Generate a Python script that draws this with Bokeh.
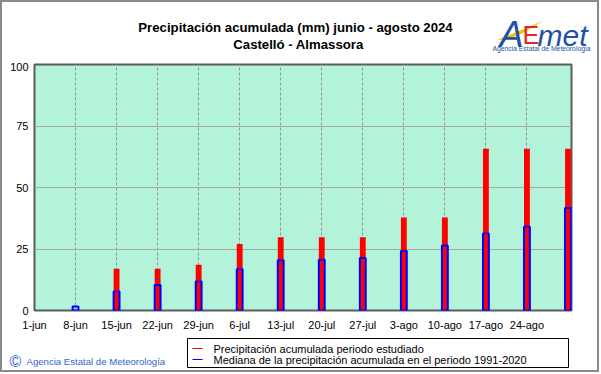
import numpy as np
from bokeh.plotting import figure
from bokeh.layouts import column
from bokeh.models import (Label, FixedTicker, Range1d, ColumnDataSource)
from bokeh.embed import file_html
from bokeh.resources import INLINE

# ---------------- data ----------------
tick_labels = ["1-jun", "8-jun", "15-jun", "22-jun", "29-jun", "6-jul", "13-jul",
               "20-jul", "27-jul", "3-ago", "10-ago", "17-ago", "24-ago"]
bar_dates = ["8-jun", "15-jun", "22-jun", "29-jun", "6-jul", "13-jul", "20-jul",
             "27-jul", "3-ago", "10-ago", "17-ago", "24-ago", "31-ago"]
acumulada = [0, 17.0, 17.0, 18.6, 27.0, 29.8, 29.8, 29.8, 37.8, 37.8, 65.8, 65.8, 65.8]
mediana = [1.6, 7.7, 10.4, 11.8, 16.8, 20.4, 20.6, 21.3, 24.2, 26.4, 31.3, 34.0, 41.7]
y_ticks = [0, 25, 50, 75, 100]

title1 = "Precipitación acumulada (mm) junio - agosto 2024"
title2 = "Castelló - Almassora"
leg1 = "Precipitación acumulada periodo estudiado"
leg2 = "Mediana de la precipitación acumulada en el periodo 1991-2020"
credit = "Agencia Estatal de Meteorología"

MONTH_START = {"jun": 0, "jul": 30, "ago": 61}


def day_of(s):
    d, m = s.split("-")
    return MONTH_START[m] + int(d) - 1


tick_days = [day_of(s) for s in tick_labels]
bar_days = [day_of(s) for s in bar_dates]

FONT = "Liberation Sans"
W = 595                   # content width (page x 2 .. 597)
OX, OY = 2, 2             # page position of layout content (inside 2px border)
HEAD_H = 60               # page y 2 .. 62
MAIN_H = 271              # page y 62 .. 333 (frame 64 .. 311)
FOOT_H = 37               # page y 333 .. 370
FRAME_L, FRAME_W, FRAME_H = 32, 537, 247
BLUE_TXT = "#3366CC"
LOGO_BLUE = "#2350A8"
RED = "#FF0000"
BLUE = "#0000FF"


def blank(h):
    f = figure(width=W, height=h, x_range=Range1d(0, W), y_range=Range1d(h, 0),
               x_axis_location=None, y_axis_location=None,
               output_backend="svg", toolbar_location=None,
               min_border=0, outline_line_color=None, frame_align=False,
               background_fill_color="white", border_fill_color="white")
    f.grid.visible = False
    return f


# ---------------- header: titles + logo ----------------
head = blank(HEAD_H)
for txt, ax_, ay in ((title1, 295, 27), (title2, 298, 44)):
    head.add_layout(Label(x=ax_ - OX, y=ay - OY, text=txt, text_align="center",
                          text_baseline="middle", text_font=FONT,
                          text_font_size="13.2px", text_font_style="bold",
                          text_color="black"))

t = np.linspace(0, 1, 30)
P0, P1, P2 = np.array([497, 39]), np.array([515, 36]), np.array([541, 21])
curve = ((1 - t) ** 2)[:, None] * P0 + (2 * (1 - t) * t)[:, None] * P1 + (t ** 2)[:, None] * P2
thick = 3.4 * np.sin(np.pi * t) + 0.3
upper = curve - np.c_[np.zeros_like(t), thick / 2]
lower = curve + np.c_[np.zeros_like(t), thick / 2]
poly = np.vstack([upper, lower[::-1]])
head.add_layout(Label(x=499 - OX, y=34 - OY, text="A", text_align="left",
                      text_baseline="alphabetic", text_font=FONT,
                      text_font_size="36px", text_font_style="italic",
                      text_color=LOGO_BLUE))
head.patch(x=poly[:, 0] - OX, y=poly[:, 1] - OY, fill_color="#F5C000",
           line_color=None)
head.add_layout(Label(x=522 - OX, y=34 - OY, text="E", text_align="left",
                      text_baseline="alphabetic", text_font=FONT,
                      text_font_size="25px", text_color="#E02828"))
head.add_layout(Label(x=537 - OX, y=35 - OY, text="met", text_align="left",
                      text_baseline="alphabetic", text_font=FONT,
                      text_font_size="30px", text_font_style="italic",
                      text_color=LOGO_BLUE))
head.add_layout(Label(x=541 - OX, y=48 - OY, text=credit,
                      text_align="center", text_baseline="middle", text_font=FONT,
                      text_font_size="6.8px", text_color=LOGO_BLUE))

# ---------------- main chart ----------------
X_END = 91.6
p = figure(width=W, height=MAIN_H,
           x_range=Range1d(0, X_END), y_range=Range1d(0, 100),
           output_backend="svg", toolbar_location=None, frame_align=False,
           min_border_left=FRAME_L, min_border_right=W - FRAME_L - FRAME_W,
           min_border_top=2, min_border_bottom=MAIN_H - 2 - FRAME_H,
           background_fill_color="#B2F3DA", border_fill_color="white")
p.outline_line_color = "#5c5c5c"
p.outline_line_width = 2

p.xaxis.ticker = FixedTicker(ticks=tick_days)
p.xaxis.major_label_overrides = {d: s for d, s in zip(tick_days, tick_labels)}
p.yaxis.ticker = FixedTicker(ticks=y_ticks)
for ax in (p.xaxis, p.yaxis):
    ax.axis_line_color = None
    ax.major_tick_line_color = None
    ax.minor_tick_line_color = None
    ax.major_tick_out = 0
    ax.major_tick_in = 0
    ax.minor_tick_out = 0
    ax.minor_tick_in = 0
    ax.major_label_text_font = FONT
    ax.major_label_text_font_size = "11px"
    ax.major_label_text_color = "black"
p.xaxis.major_label_standoff = 8
p.yaxis.major_label_standoff = 6

p.xgrid.ticker = FixedTicker(ticks=tick_days[1:])
p.xgrid.grid_line_color = "#959595"
p.xgrid.grid_line_dash = "3 2"
p.ygrid.ticker = FixedTicker(ticks=y_ticks[1:-1])
p.ygrid.grid_line_color = "#a8a8a8"

src = ColumnDataSource(dict(x=bar_days, acc=acumulada, med=mediana))
p.vbar(x="x", top="acc", width=1.0, bottom=0, fill_color=RED,
       line_color=None, source=src)
p.vbar(x="x", top="med", width=1.0, bottom=0, fill_alpha=0,
       line_color=BLUE, line_width=2, source=src)

# ---------------- footer: legend box + credit ----------------
foot = blank(FOOT_H)
fy0 = OY + HEAD_H + MAIN_H
fx = lambda ax_: ax_ - OX
fy = lambda ay: ay - fy0
foot.quad(left=fx(187), right=fx(568), top=fy(338), bottom=fy(367),
          fill_color="white", line_color="black", line_width=1)
for txt, col, ay in ((leg1, RED, 348), (leg2, BLUE, 359)):
    foot.segment(x0=fx(192), x1=fx(202), y0=fy(ay), y1=fy(ay),
                 line_color=col, line_width=1)
    foot.add_layout(Label(x=fx(213), y=fy(ay), text=txt, text_align="left",
                          text_baseline="middle", text_font=FONT,
                          text_font_size="11px", text_color="black"))
foot.add_layout(Label(x=fx(9), y=fy(361), text="©", text_align="left",
                      text_baseline="middle", text_font=FONT,
                      text_font_size="16px", text_color=BLUE_TXT))
foot.add_layout(Label(x=fx(26), y=fy(361), text=credit,
                      text_align="left", text_baseline="middle", text_font=FONT,
                      text_font_size="9.6px", text_color=BLUE_TXT))

layout = column(head, p, foot, spacing=0,
                styles={"border": "2px solid #8a8a8a"})
open("out.html", "w").write(file_html(layout, INLINE))
